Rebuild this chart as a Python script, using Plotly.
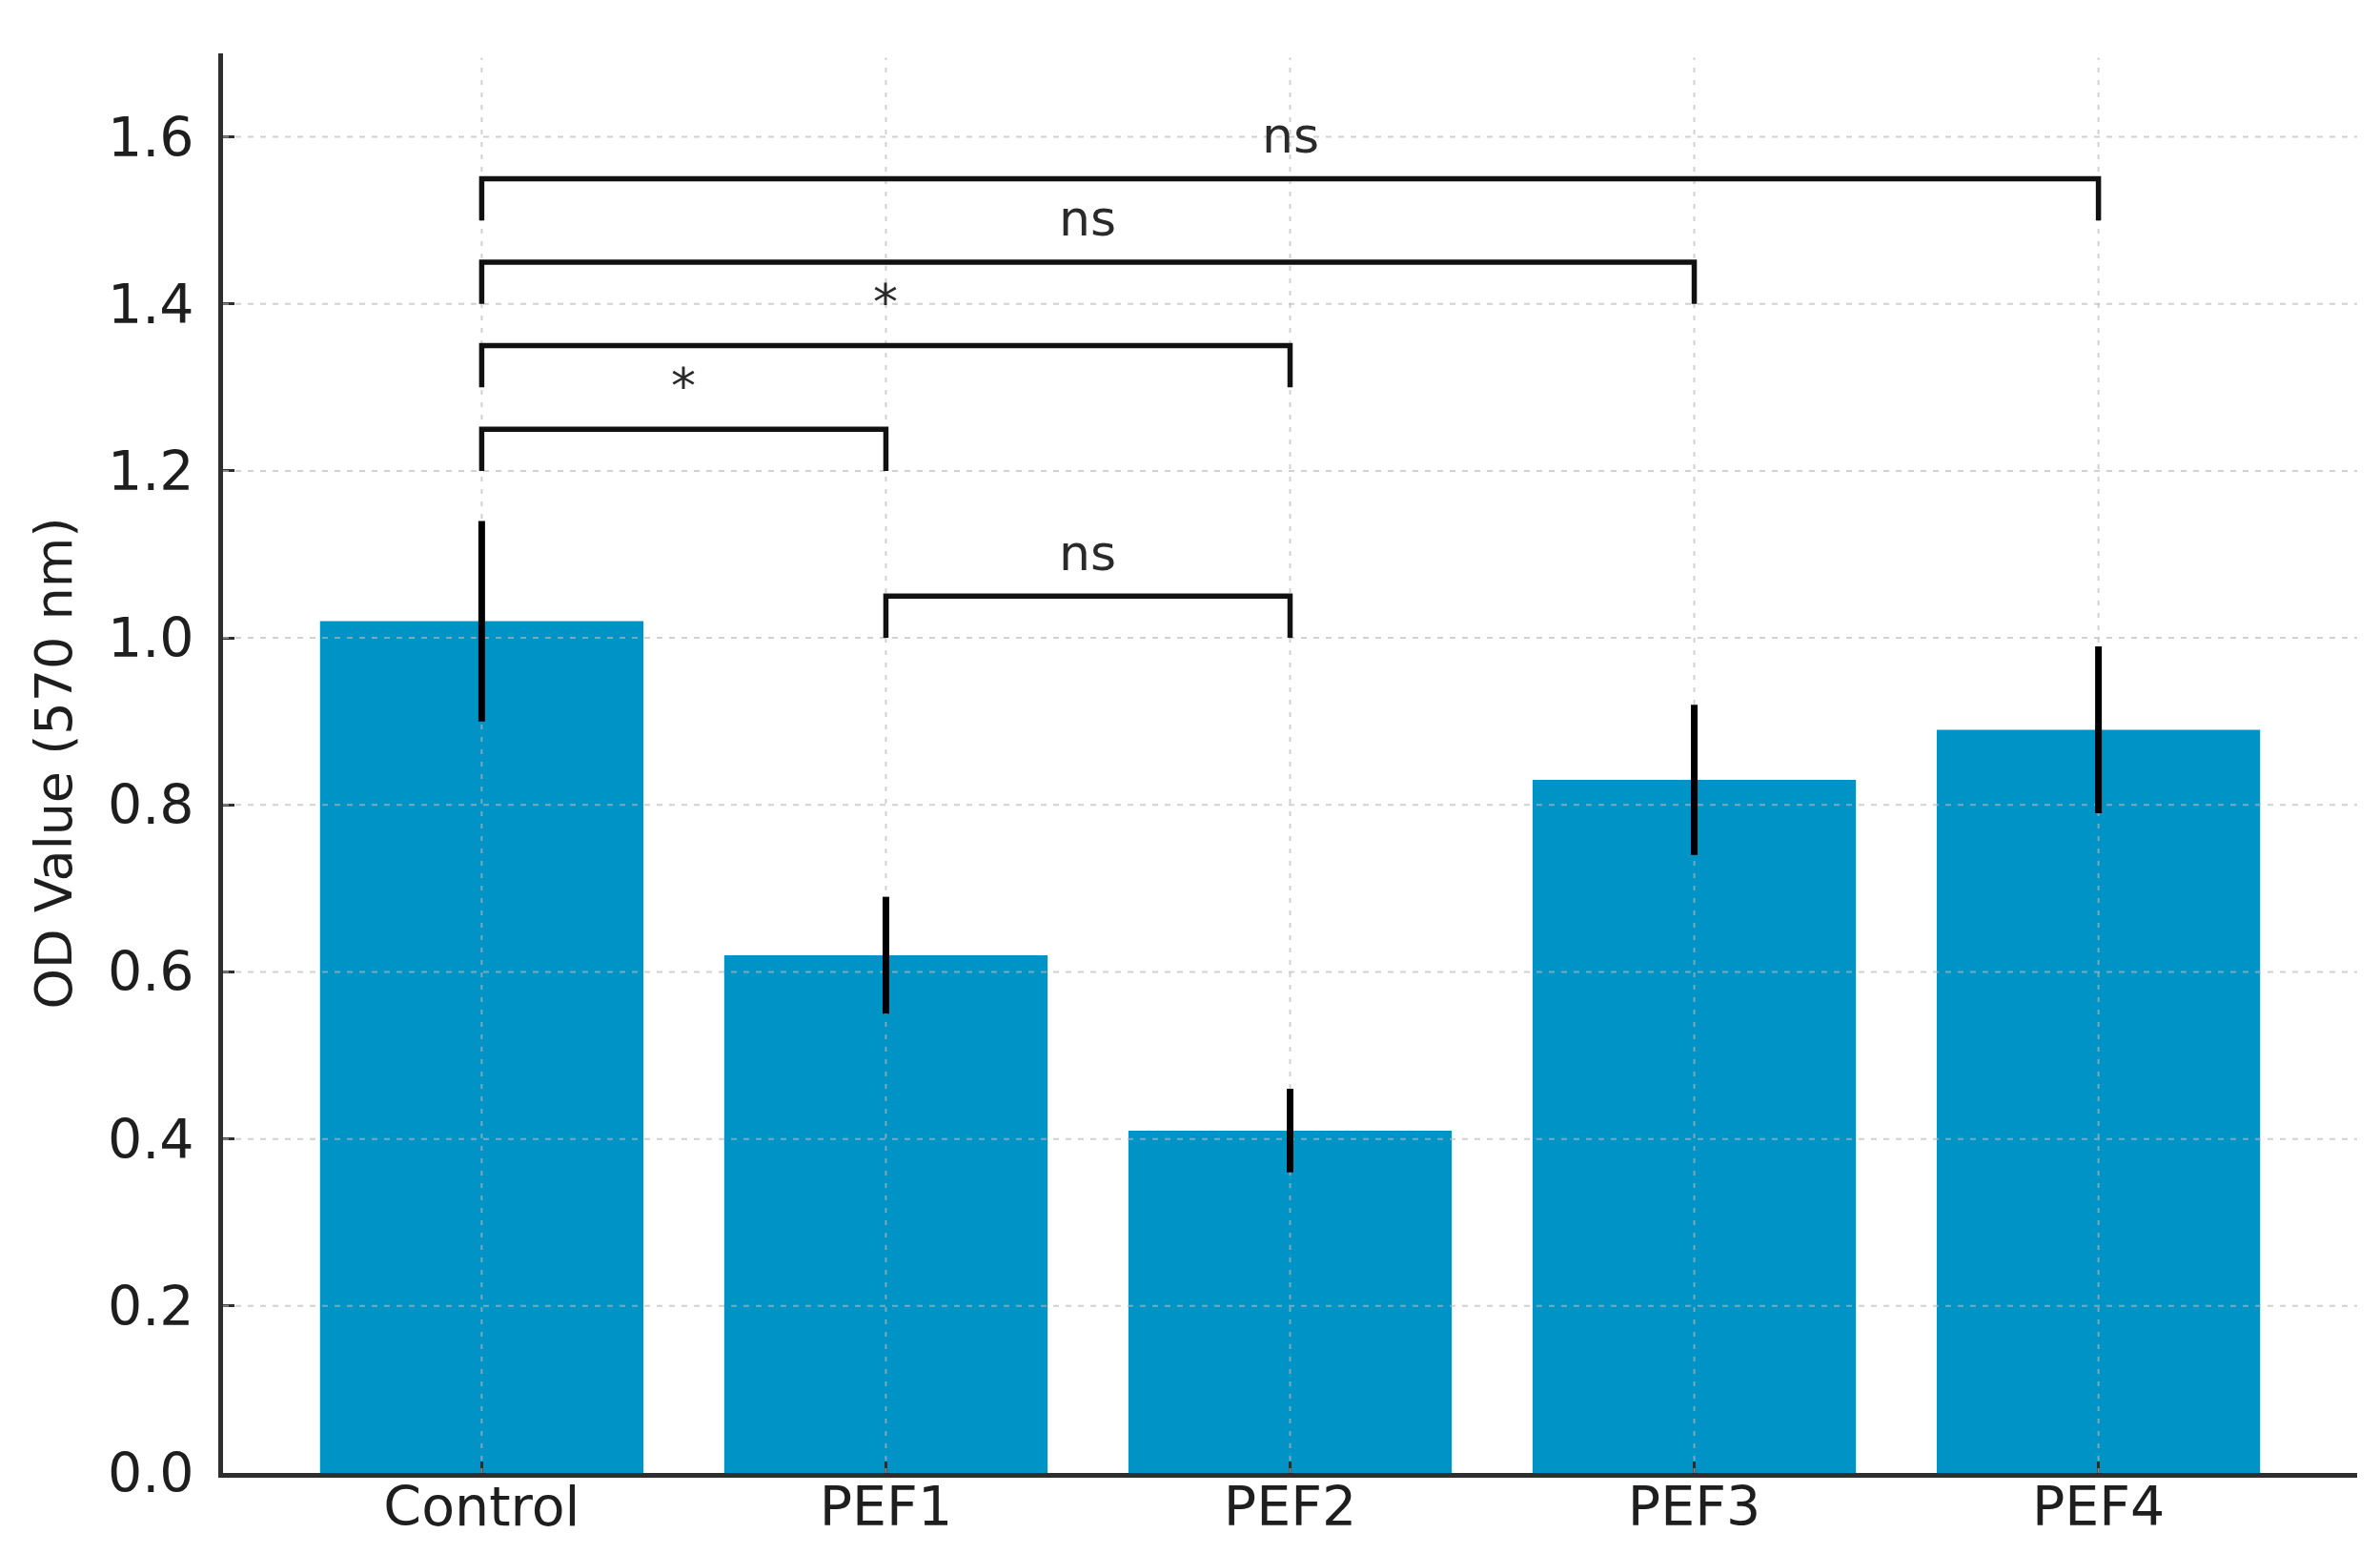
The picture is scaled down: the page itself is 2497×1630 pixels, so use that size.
import plotly.graph_objects as go

# ---- data ----
categories = ["Control", "PEF1", "PEF2", "PEF3", "PEF4"]
od_values = [1.02, 0.62, 0.41, 0.83, 0.89]
od_errors = [0.12, 0.07, 0.05, 0.09, 0.10]

# significance comparisons: (group a, group b, bracket height, label)
comp_a = ["Control", "Control", "Control", "Control", "PEF1"]
comp_b = ["PEF1", "PEF2", "PEF3", "PEF4", "PEF2"]
comp_h = [1.25, 1.35, 1.45, 1.55, 1.05]
comp_lab = ["*", "*", "ns", "ns", "ns"]

y_ticks = [0.0, 0.2, 0.4, 0.6, 0.8, 1.0, 1.2, 1.4, 1.6]
y_title = "OD Value (570 nm)"

# ---- style ----
BAR_COLOR = "#0093C6"
TEXT_COLOR = "#1e1e1e"
FONT = "DejaVu Sans"
GRID_COLOR = "rgba(185,185,185,0.65)"
BRACKET_DROP = 0.05
LABEL_OFFSET = 0.052
X_RANGE = [-0.64, 4.64]
Y_RANGE = [0, 1.70]

xpos = list(range(len(categories)))

fig = go.Figure()
fig.add_trace(go.Bar(
    x=xpos, y=od_values, width=0.8,
    marker=dict(color=BAR_COLOR, line=dict(width=0)),
    showlegend=False,
))

shapes = []
# grid lines drawn above the bars (as in the reference)
for t in y_ticks[1:]:
    shapes.append(dict(type="line", xref="paper", yref="y", x0=0, x1=1, y0=t, y1=t,
                       line=dict(color=GRID_COLOR, width=2, dash="6px,7px"), layer="above"))
for xp in xpos:
    shapes.append(dict(type="line", xref="x", yref="paper", x0=xp, x1=xp, y0=0, y1=0.997,
                       line=dict(color=GRID_COLOR, width=2, dash="5px,8px"), layer="above"))
# error bars
for xp, v, e in zip(xpos, od_values, od_errors):
    shapes.append(dict(type="line", xref="x", yref="y", x0=xp, x1=xp, y0=v - e, y1=v + e,
                       line=dict(color="black", width=7), layer="above"))
# significance brackets
annotations = []
for a, b, h, lab in zip(comp_a, comp_b, comp_h, comp_lab):
    xa = categories.index(a)
    xb = categories.index(b)
    shapes.append(dict(type="path", xref="x", yref="y",
                       path=f"M {xa},{h - BRACKET_DROP} L {xa},{h} L {xb},{h} L {xb},{h - BRACKET_DROP}",
                       line=dict(color="#111111", width=5.5), layer="above"))
    annotations.append(dict(x=(xa + xb) / 2, y=h + LABEL_OFFSET, xref="x", yref="y",
                            text=lab, showarrow=False, xanchor="center", yanchor="middle",
                            font=dict(family=FONT, size=52, color="#2a2a2a")))

fig.update_layout(
    width=2497, height=1630,
    margin=dict(l=226, r=32, t=48, b=93),
    paper_bgcolor="white", plot_bgcolor="white",
    font=dict(family=FONT, color=TEXT_COLOR),
    shapes=shapes, annotations=annotations,
    bargap=0.2,
)
fig.update_xaxes(
    range=X_RANGE, tickmode="array", tickvals=xpos, ticktext=categories,
    showgrid=False, zeroline=False,
    showline=True, linecolor="#2e2e2e", linewidth=5,
    ticks="inside", ticklen=12, tickwidth=3, tickcolor="#2e2e2e",
    tickfont=dict(family=FONT, size=57, color=TEXT_COLOR),
    ticklabelstandoff=-18,
)
fig.update_yaxes(
    range=Y_RANGE, tickmode="array", tickvals=y_ticks,
    ticktext=[f"{t:.1f}" for t in y_ticks],
    showgrid=False, zeroline=False,
    showline=True, linecolor="#2e2e2e", linewidth=5,
    ticks="inside", ticklen=12, tickwidth=3, tickcolor="#2e2e2e",
    tickfont=dict(family=FONT, size=57, color=TEXT_COLOR),
    ticklabelstandoff=14,
    title=dict(text=y_title, font=dict(family=FONT, size=54, color=TEXT_COLOR), standoff=22),
)

fig.write_html("out.html")
